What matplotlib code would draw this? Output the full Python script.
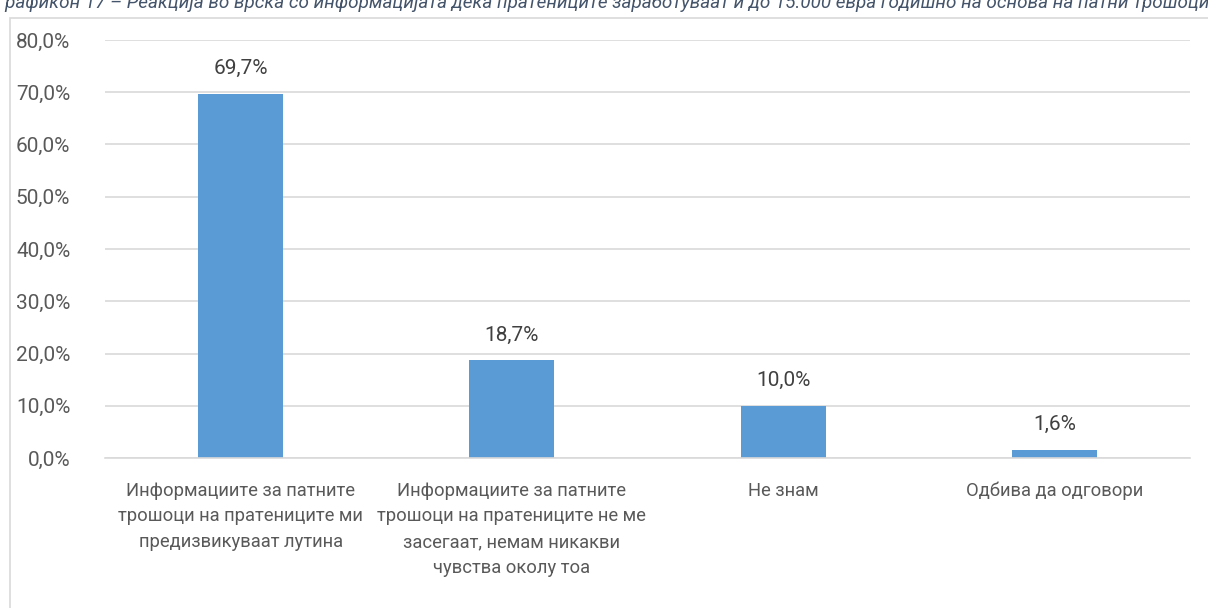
import matplotlib
matplotlib.use('Agg')
import matplotlib.pyplot as plt
from matplotlib.patches import Rectangle
from matplotlib import font_manager

categories = [
    'Информациите за патните\nтрошоци на пратениците ми\nпредизвикуваат лутина',
    'Информациите за патните\nтрошоци на пратениците не ме\nзасегаат, немам никакви\nчувства околу тоа',
    'Не знам',
    'Одбива да одговори',
]
values = [69.7, 18.7, 10.0, 1.6]
yticks = [0, 10, 20, 30, 40, 50, 60, 70, 80]
title = ('Графикон 17 – Реакција во врска со информацијата дека пратениците '
         'заработуваат и до 15.000 евра годишно на основа на патни трошоци')

names = {f.name for f in font_manager.fontManager.ttflist}
font = 'Liberation Sans Narrow' if 'Liberation Sans Narrow' in names else 'Roboto'
plt.rcParams['font.family'] = [font, 'DejaVu Sans']

text_color = '#595959'
bar_color = '#5B9BD5'
grid_color = '#D9D9D9'

fig = plt.figure(figsize=(12.08, 6.08), dpi=100)

# chart frame (cut off at right and bottom in the screenshot)
fig.patches.append(Rectangle((10 / 1208, -0.05), 1.1, 1 - 18 / 608 + 0.05,
                             transform=fig.transFigure, fill=False,
                             edgecolor=grid_color, linewidth=1.2))

# title, only its lower half shows in the reference
fig.text(-0.004, 1 - 8 / 608, title, ha='left', va='baseline', fontsize=13.6,
         style='italic', color='#44546A')

ax = fig.add_axes([105 / 1208, 1 - 458 / 608, (1190 - 105) / 1208, (458 - 40) / 608])
x = range(len(categories))
bars = ax.bar(x, values, width=0.313, color=bar_color, zorder=2)
for i, v in enumerate(values):
    ax.text(i, v + 3.0, f"{v:.1f}%".replace('.', ','), ha='center', va='bottom',
            fontsize=15, color='#404040')

ax.set_ylim(0, 80)
ax.set_xlim(-0.5, len(categories) - 0.5)
ax.set_yticks(yticks)
ax.set_yticklabels([f"{t:.1f}%".replace('.', ',') for t in yticks], fontsize=15, color=text_color)
ax.set_xticks(list(x))
ax.set_xticklabels(categories, fontsize=13.2, color=text_color, linespacing=1.55)
ax.tick_params(axis='both', length=0)
ax.tick_params(axis='y', pad=25)
ax.tick_params(axis='x', pad=17)
ax.yaxis.grid(True, color=grid_color, linewidth=1.2, zorder=0)
ax.set_axisbelow(True)
for s in ['top', 'right', 'left']:
    ax.spines[s].set_visible(False)
ax.spines['bottom'].set_color(grid_color)
ax.spines['bottom'].set_linewidth(1.2)

fig.savefig('out.png', dpi=100)
